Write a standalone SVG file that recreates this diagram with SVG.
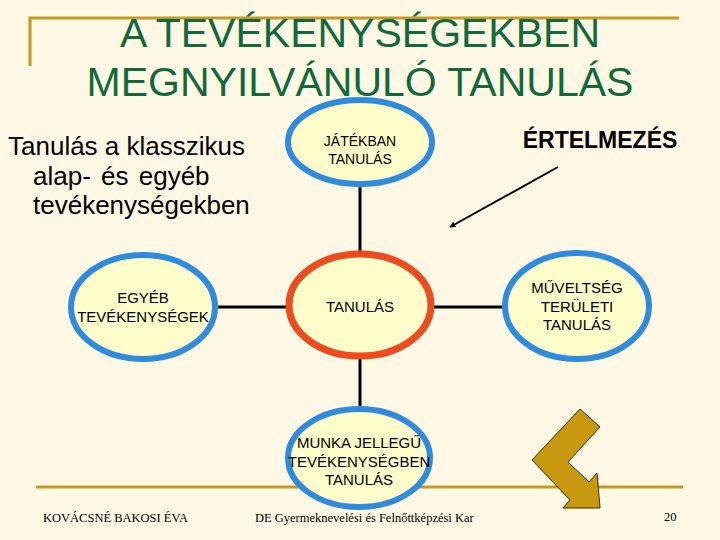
<svg xmlns="http://www.w3.org/2000/svg" width="720" height="540" viewBox="0 0 720 540">
<defs>
<style>
.title{font-family:"Liberation Sans",Arial,sans-serif;font-size:41px;fill:#12693A;text-anchor:middle}
.body{font-family:"Liberation Sans",Arial,sans-serif;font-size:26px;fill:#000}
.node{font-family:"Liberation Sans",Arial,sans-serif;font-size:15px;fill:#000;text-anchor:middle}
.foot{font-family:"Liberation Serif","Times New Roman",serif;font-size:12.5px;fill:#000}
.blue{fill:#FFFDC9;stroke:#2E8BDD;stroke-width:6}
.orange{fill:#FFFDC9;stroke:#EE4B1E;stroke-width:7}
.conn{stroke:#000;stroke-width:3;fill:none}
.gold{stroke:#C49A22;stroke-width:3;fill:none}
</style>
<marker id="ah" viewBox="0 0 10 10" refX="9" refY="5" markerWidth="6" markerHeight="6" orient="auto" markerUnits="userSpaceOnUse">
<path d="M0,0 L10,5 L0,10 z" fill="#000"/>
</marker>
</defs>
<rect x="0" y="0" width="720" height="540" fill="#FEF8E4"/>
<g id="frame">
<path class="gold" d="M30,66 V18 H679"/>
<line class="gold" x1="36" y1="487" x2="683" y2="487"/>
</g>
<g id="title">
<text class="title" x="360" y="47">A TEVÉKENYSÉGEKBEN</text>
<text class="title" x="360" y="96">MEGNYILVÁNULÓ TANULÁS</text>
</g>
<g id="intro">
<text class="body" x="8" y="155">Tanulás a klasszikus</text>
<text class="body" x="33" y="185" word-spacing="3">alap- és egyéb</text>
<text class="body" x="33" y="214">tevékenységekben</text>
</g>
<g id="footer">
<text class="foot" x="43" y="522">KOVÁCSNÉ BAKOSI ÉVA</text>
<text class="foot" x="255" y="522">DE Gyermeknevelési és Felnőttképzési Kar</text>
<text class="foot" x="664" y="521">20</text>
</g>
<g id="connectors">
<line class="conn" x1="360" y1="187" x2="360" y2="251"/>
<line class="conn" x1="360" y1="359" x2="360" y2="408"/>
<line class="conn" x1="218" y1="307" x2="286" y2="307"/>
<line class="conn" x1="434" y1="307" x2="503" y2="307"/>
<line stroke="#000" stroke-width="2" x1="558" y1="167" x2="450" y2="227" marker-end="url(#ah)"/>
</g>
<g id="n-jatek">
<ellipse class="blue" cx="360" cy="142" rx="72" ry="42"/>
<text class="node" x="360" y="146" style="font-size:14px">JÁTÉKBAN</text>
<text class="node" x="360" y="164" style="font-size:14px">TANULÁS</text>
</g>
<g id="n-egyeb">
<ellipse class="blue" cx="143" cy="307" rx="72" ry="52"/>
<text class="node" x="143" y="303">EGYÉB</text>
<text class="node" x="143" y="322">TEVÉKENYSÉGEK</text>
</g>
<g id="n-tanulas">
<ellipse class="orange" cx="360" cy="305" rx="71" ry="51"/>
<text class="node" x="360" y="312">TANULÁS</text>
</g>
<g id="n-muveltseg">
<ellipse class="blue" cx="577" cy="306" rx="72" ry="53"/>
<text class="node" x="577" y="293">MŰVELTSÉG</text>
<text class="node" x="577" y="312">TERÜLETI</text>
<text class="node" x="577" y="330">TANULÁS</text>
</g>
<g id="n-munka">
<ellipse class="blue" cx="359" cy="458" rx="71" ry="49"/>
<text class="node" x="359" y="448">MUNKA JELLEGŰ</text>
<text class="node" x="359" y="467">TEVÉKENYSÉGBEN</text>
<text class="node" x="359" y="485">TANULÁS</text>
</g>
<g id="n-ertelmezes">
<text x="600" y="148" style="font-family:'Liberation Sans',Arial,sans-serif;font-size:23px;font-weight:bold;text-anchor:middle">ÉRTELMEZÉS</text>
</g>
<g id="bent-arrow">
<path d="M580,409 L600,427 L568,462 L589,482 L597,473 L600,508 L563,508 L570,500 L532,460 Z" fill="#C8980F" stroke="#3A2A00" stroke-width="1"/>
</g>
</svg>
